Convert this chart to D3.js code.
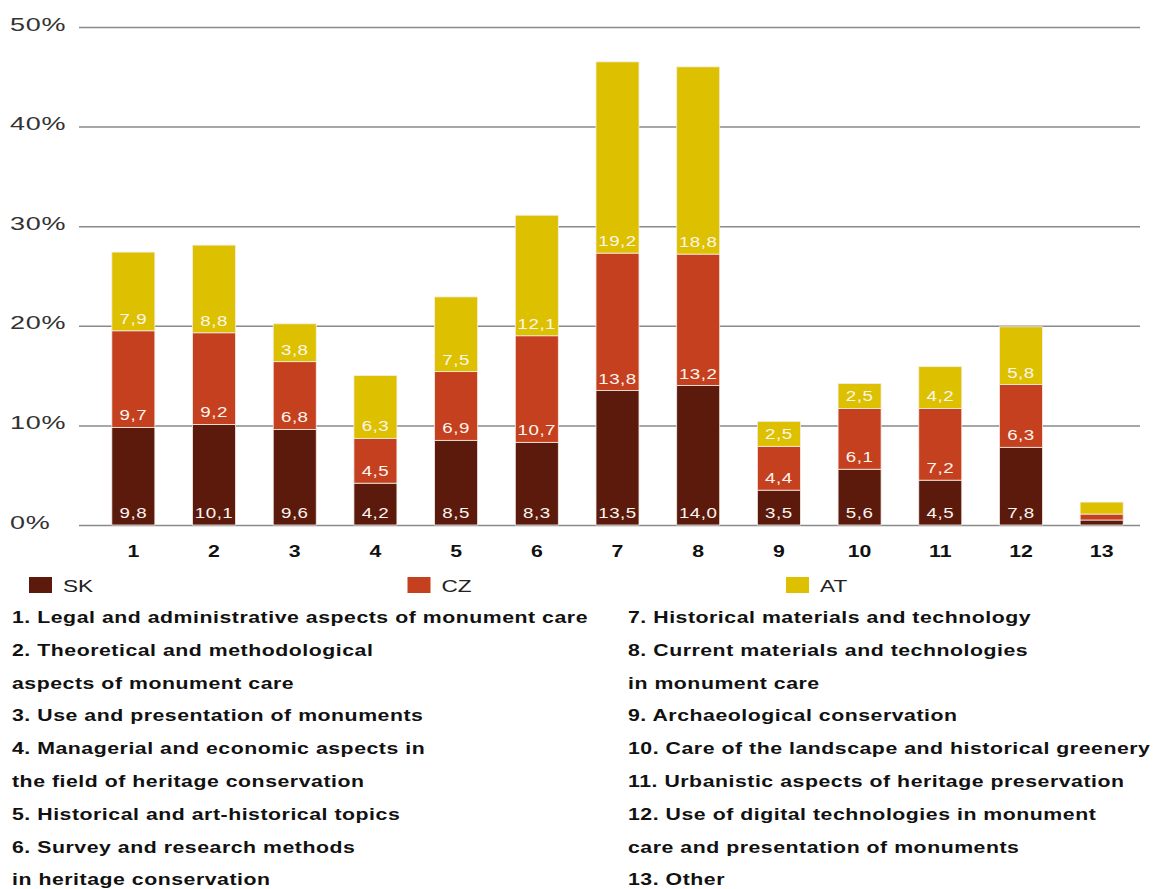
<!DOCTYPE html>
<html>
<head>
<meta charset="utf-8">
<script src="https://cdn.jsdelivr.net/npm/d3@7"></script>
<style>
  body { margin: 0; background: #fff; }
  svg text { font-family: "Liberation Sans", Arial, Helvetica, sans-serif; }
</style>
</head>
<body>
<svg id="chart" width="1153" height="889"></svg>
<script>
// data (percent)
var categories = ["1","2","3","4","5","6","7","8","9","10","11","12","13"];
var seriesNames = ["SK", "CZ", "AT"];
var skValues = [9.8, 10.1, 9.6, 4.2, 8.5, 8.3, 13.5, 14.0, 3.5, 5.6, 4.5, 7.8, 0.5];
var czValues = [9.7, 9.2, 6.8, 4.5, 6.9, 10.7, 13.8, 13.2, 4.4, 6.1, 7.2, 6.3, 0.6];
var atValues = [7.9, 8.8, 3.8, 6.3, 7.5, 12.1, 19.2, 18.8, 2.5, 2.5, 4.2, 5.8, 1.2];
var yTicks = [0, 10, 20, 30, 40, 50];
var topics = [
  "1. Legal and administrative aspects of monument care",
  "2. Theoretical and methodological|aspects of monument care",
  "3. Use and presentation of monuments",
  "4. Managerial and economic aspects in|the field of heritage conservation",
  "5. Historical and art-historical topics",
  "6. Survey and research methods|in heritage conservation",
  "7. Historical materials and technology",
  "8. Current materials and technologies|in monument care",
  "9. Archaeological conservation",
  "10. Care of the landscape and historical greenery",
  "11. Urbanistic aspects of heritage preservation",
  "12. Use of digital technologies in monument|care and presentation of monuments",
  "13. Other"
];

var colors = { SK: "#5b1a0c", CZ: "#c5401f", AT: "#ddc100" };
var stretch = 1.33; // the reference type is horizontally widened

var svg = d3.select("#chart");

// build rows for the stack
var rows = categories.map(function(c, i) {
  return { cat: c, SK: skValues[i], CZ: czValues[i], AT: atValues[i] };
});

var gridLeft = 79, gridRight = 1140;
var x = d3.scaleBand().domain(categories).range([93, 1142])
    .paddingInner(0.467).paddingOuter(0.2335);
var y = d3.scaleLinear().domain([0, 50]).range([525, 27]);

// y axis + gridlines
var yAxis = svg.append("g")
    .attr("transform", "translate(" + gridLeft + ",0)")
    .call(d3.axisLeft(y).tickValues(yTicks).tickSize(-(gridRight - gridLeft))
      .tickFormat(function(d) { return d + "%"; }));
yAxis.select(".domain").remove();
yAxis.selectAll(".tick line")
    .attr("stroke", "#8a8a8a")
    .attr("stroke-width", 1.5);
yAxis.selectAll(".tick text")
    .attr("text-anchor", "start")
    .attr("x", (10 - gridLeft) / 1.5)
    .attr("y", 3)
    .attr("dy", null)
    .attr("transform", "scale(1.5,1)")
    .attr("fill", "#333")
    .style("font-size", "18px")
    .style("letter-spacing", "0.5px");

// x axis labels
var xAxis = svg.append("g")
    .attr("transform", "translate(0," + y(0) + ")")
    .call(d3.axisBottom(x).tickSize(0));
xAxis.select(".domain").remove();
xAxis.selectAll(".tick text")
    .attr("y", 32)
    .attr("dy", null)
    .attr("transform", "scale(" + stretch + ",1)")
    .attr("fill", "#111")
    .style("font-size", "16px")
    .style("font-weight", "bold");

// stacked bars
var stacked = d3.stack().keys(seriesNames)(rows);

var layers = svg.selectAll(".layer")
  .data(stacked)
  .enter().append("g")
    .attr("class", "layer")
    .attr("fill", function(d) { return colors[d.key]; });

layers.selectAll("rect")
  .data(function(d) { return d; })
  .enter().append("rect")
    .attr("x", function(d) { return x(d.data.cat); })
    .attr("y", function(d) { return y(d[1]); })
    .attr("width", x.bandwidth())
    .attr("height", function(d) { return y(d[0]) - y(d[1]); })
    .attr("stroke", "#f4ece6")
    .attr("stroke-width", 0.8);

// value labels at the bottom of each segment (not on the tiny last bar)
stacked.forEach(function(layer) {
  svg.append("g").selectAll("text")
    .data(layer.filter(function(d) { return d[1] - d[0] >= 2; }))
    .enter().append("g")
      .attr("transform", function(d) {
        return "translate(" + (x(d.data.cat) + x.bandwidth() / 2) + "," + (y(d[0]) - 7) + ") scale(1.25,1)";
      })
    .append("text")
      .attr("text-anchor", "middle")
      .attr("fill", "#fbf5ef")
      .attr("stroke", colors[layer.key])
      .attr("stroke-width", 4)
      .attr("stroke-linejoin", "round")
      .attr("paint-order", "stroke")
      .style("font-size", "15px")
      .style("letter-spacing", "0.4px")
      .text(function(d) { return (d[1] - d[0]).toFixed(1).replace(".", ","); });
});

// legend
var legendX = d3.scalePoint().domain(seriesNames).range([29, 786]);
var legend = svg.append("g").selectAll("g")
  .data(seriesNames)
  .enter().append("g")
    .attr("transform", function(d) { return "translate(" + legendX(d) + ",577)"; });
legend.append("rect")
    .attr("width", 23)
    .attr("height", 16)
    .attr("fill", function(d) { return colors[d]; });
legend.append("text")
    .attr("x", 34 / stretch)
    .attr("y", 15)
    .attr("transform", "scale(" + stretch + ",1)")
    .attr("fill", "#222")
    .style("font-size", "17px")
    .text(function(d) { return d; });

// topic list in two columns
var lines = [];
topics.forEach(function(t) { t.split("|").forEach(function(l) { lines.push(l); }); });
var half = 9;
var listY = d3.scaleLinear().domain([0, 1]).range([623, 655.8]);

svg.append("g").selectAll("g")
  .data(lines)
  .enter().append("g")
    .attr("transform", function(d, i) {
      var col = i < half ? 0 : 1;
      var row = i < half ? i : i - half;
      return "translate(" + (col ? 628 : 12) + "," + listY(row) + ") scale(" + stretch + ",1)";
    })
  .append("text")
    .attr("fill", "#111")
    .style("font-size", "16px")
    .style("font-weight", "bold")
    .style("letter-spacing", "0.4px")
    .text(function(d) { return d; });
</script>
</body>
</html>
